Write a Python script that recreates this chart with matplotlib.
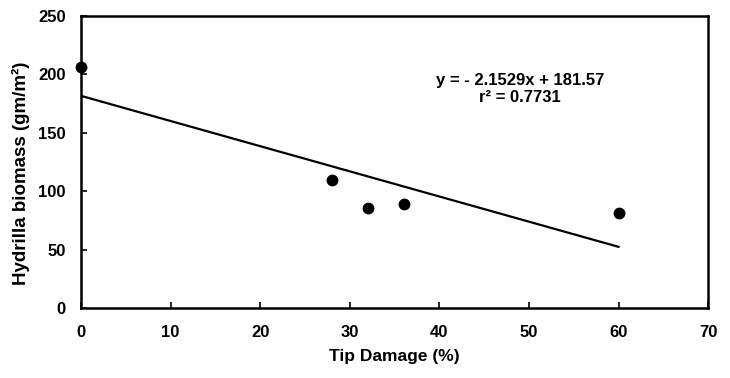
import matplotlib
matplotlib.use("Agg")
import matplotlib.pyplot as plt

plt.rcParams['font.family'] = ['Liberation Sans', 'DejaVu Sans']
plt.rcParams['font.weight'] = 'bold'

tip_damage = [0, 28, 32, 36, 60]
biomass = [206, 109.5, 85.5, 89.3, 81.2]
slope = -2.1529
intercept = 181.57
r2 = 0.7731
fit_x = [0, 60]
fit_y = [slope * v + intercept for v in fit_x]
x_ticks = [0, 10, 20, 30, 40, 50, 60, 70]
y_ticks = [0, 50, 100, 150, 200, 250]

fig = plt.figure(figsize=(7.30, 3.78), dpi=100)
ax = fig.add_axes([0.111, 0.185, 0.859, 0.773])

ax.plot(fit_x, fit_y, color='black', lw=1.6, zorder=2)
ax.plot(tip_damage, biomass, 'o', color='black', ms=7.5, clip_on=False, zorder=3)

ax.set_xlim(0, 70)
ax.set_ylim(0, 250)
ax.set_xticks(x_ticks)
ax.set_yticks(y_ticks)
ax.tick_params(direction='in', length=4, width=1.2, labelsize=12)
ax.tick_params(axis='x', pad=12)
ax.tick_params(axis='y', pad=11)
for s in ax.spines.values():
    s.set_linewidth(1.8)

ax.set_xlabel('Tip Damage (%)', fontsize=12.5, fontweight='bold', labelpad=7)
ax.set_ylabel('Hydrilla biomass (gm/m²)', fontsize=13.5, fontweight='bold')
ax.yaxis.set_label_coords(-0.082, 0.46)

ax.text(49, 195, 'y = - 2.1529x + 181.57', ha='center', va='center', fontsize=12, fontweight='bold')
ax.text(49, 180, f'r² = {r2}', ha='center', va='center', fontsize=12, fontweight='bold')

fig.savefig('out.png', dpi=100)
